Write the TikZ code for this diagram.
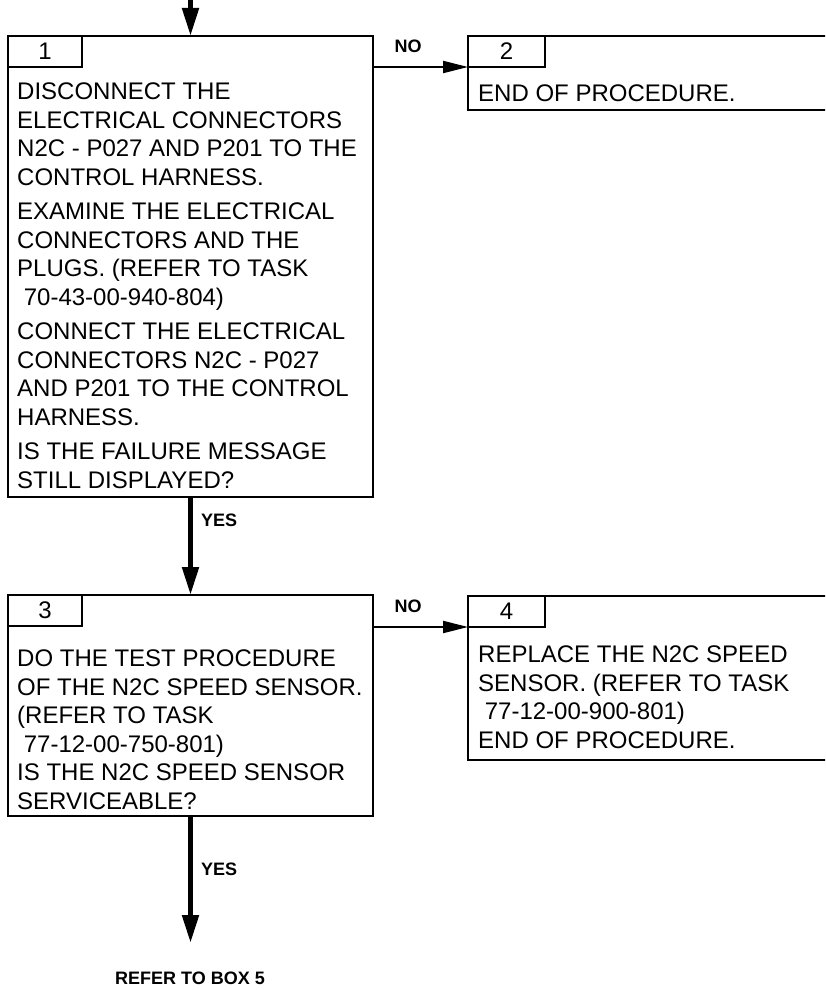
\documentclass[tikz,border=0pt]{standalone}
\usepackage{fontspec}
\setmainfont{Liberation Sans}
\usetikzlibrary{arrows.meta, positioning}

\begin{document}
\begin{tikzpicture}[x=1pt, y=-1pt,
    box/.style={draw, line width=2.5pt, rectangle, inner sep=0pt, outer sep=0pt, anchor=north west},
    tab/.style={box, minimum height=31pt, font=\fontsize{24}{28.5}\selectfont},
    txt/.style={anchor=north west, inner sep=0pt, align=left, font=\fontsize{24}{28.5}\selectfont},
    lbl/.style={inner sep=0pt, font=\fontsize{18}{20}\selectfont\bfseries},
    down/.style={-{Triangle[length=28pt, width=16pt]}, line width=5pt},
    side/.style={-{Triangle[length=25pt, width=12pt]}, line width=2pt}]

        \clip (0,0) rectangle (825,990);

        \node (box1) at (8,36) [box, minimum width=365pt, minimum height=461pt] {};
        \node (tab1) at (box1.north west) [tab, minimum width=74pt] {1};
        \node (txt1) at (17,83) [txt] {DISCONNECT THE\\
            ELECTRICAL CONNECTORS\\
            N2C - P027 AND P201 TO THE\\
            CONTROL HARNESS.\\[6pt]
            EXAMINE THE ELECTRICAL\\
            CONNECTORS AND THE\\
            PLUGS. (REFER TO TASK\\
            \ 70-43-00-940-804)\\[6pt]
            CONNECT THE ELECTRICAL\\
            CONNECTORS N2C - P027\\
            AND P201 TO THE CONTROL\\
            HARNESS.\\[6pt]
            IS THE FAILURE MESSAGE\\
            STILL DISPLAYED?};

        \node (box2) at (468,36) [box, minimum width=370pt, minimum height=74pt] {};
        \node (tab2) at (box2.north west) [tab, minimum width=77pt] {2};
        \node (txt2) at (478,85) [txt] {END OF PROCEDURE.};

        \node (box3) at (8,595) [box, minimum width=365pt, minimum height=221pt] {};
        \node (tab3) at (box3.north west) [tab, minimum width=74pt] {3};
        \node (txt3) at (17,650) [txt] {DO THE TEST PROCEDURE\\
            OF THE N2C SPEED SENSOR.\\
            (REFER TO TASK\\
            \ 77-12-00-750-801)\\
            IS THE N2C SPEED SENSOR\\
            SERVICEABLE?};

        \node (box4) at (468,596) [box, minimum width=370pt, minimum height=164pt] {};
        \node (tab4) at (box4.north west) [tab, minimum width=77pt] {4};
        \node (txt4) at (478,646) [txt] {REPLACE THE N2C SPEED\\
            SENSOR. (REFER TO TASK\\
            \ 77-12-00-900-801)\\
            END OF PROCEDURE.};

        \coordinate (entry) at (box1.north |- 0,-4);
        \coordinate (exit3) at (box3.south |- 0,943);
        \node (refer) at (190,978) [lbl] {REFER TO BOX 5};

        \draw[down] (entry) -- (box1.north);
        \draw[down] (box1.south) -- node[lbl, right=8pt, pos=0.235] {YES} (box3.north);
        \draw[down] (box3.south) -- node[lbl, right=8pt, pos=0.42] {YES} (exit3);
        \draw[side] (box1.east |- tab2.south) -- node[lbl, above=13pt, pos=0.37] {NO} (tab2.south west);
        \draw[side] (box3.east |- tab4.south) -- node[lbl, above=13pt, pos=0.37] {NO} (tab4.south west);
    \end{tikzpicture}
\end{document}
